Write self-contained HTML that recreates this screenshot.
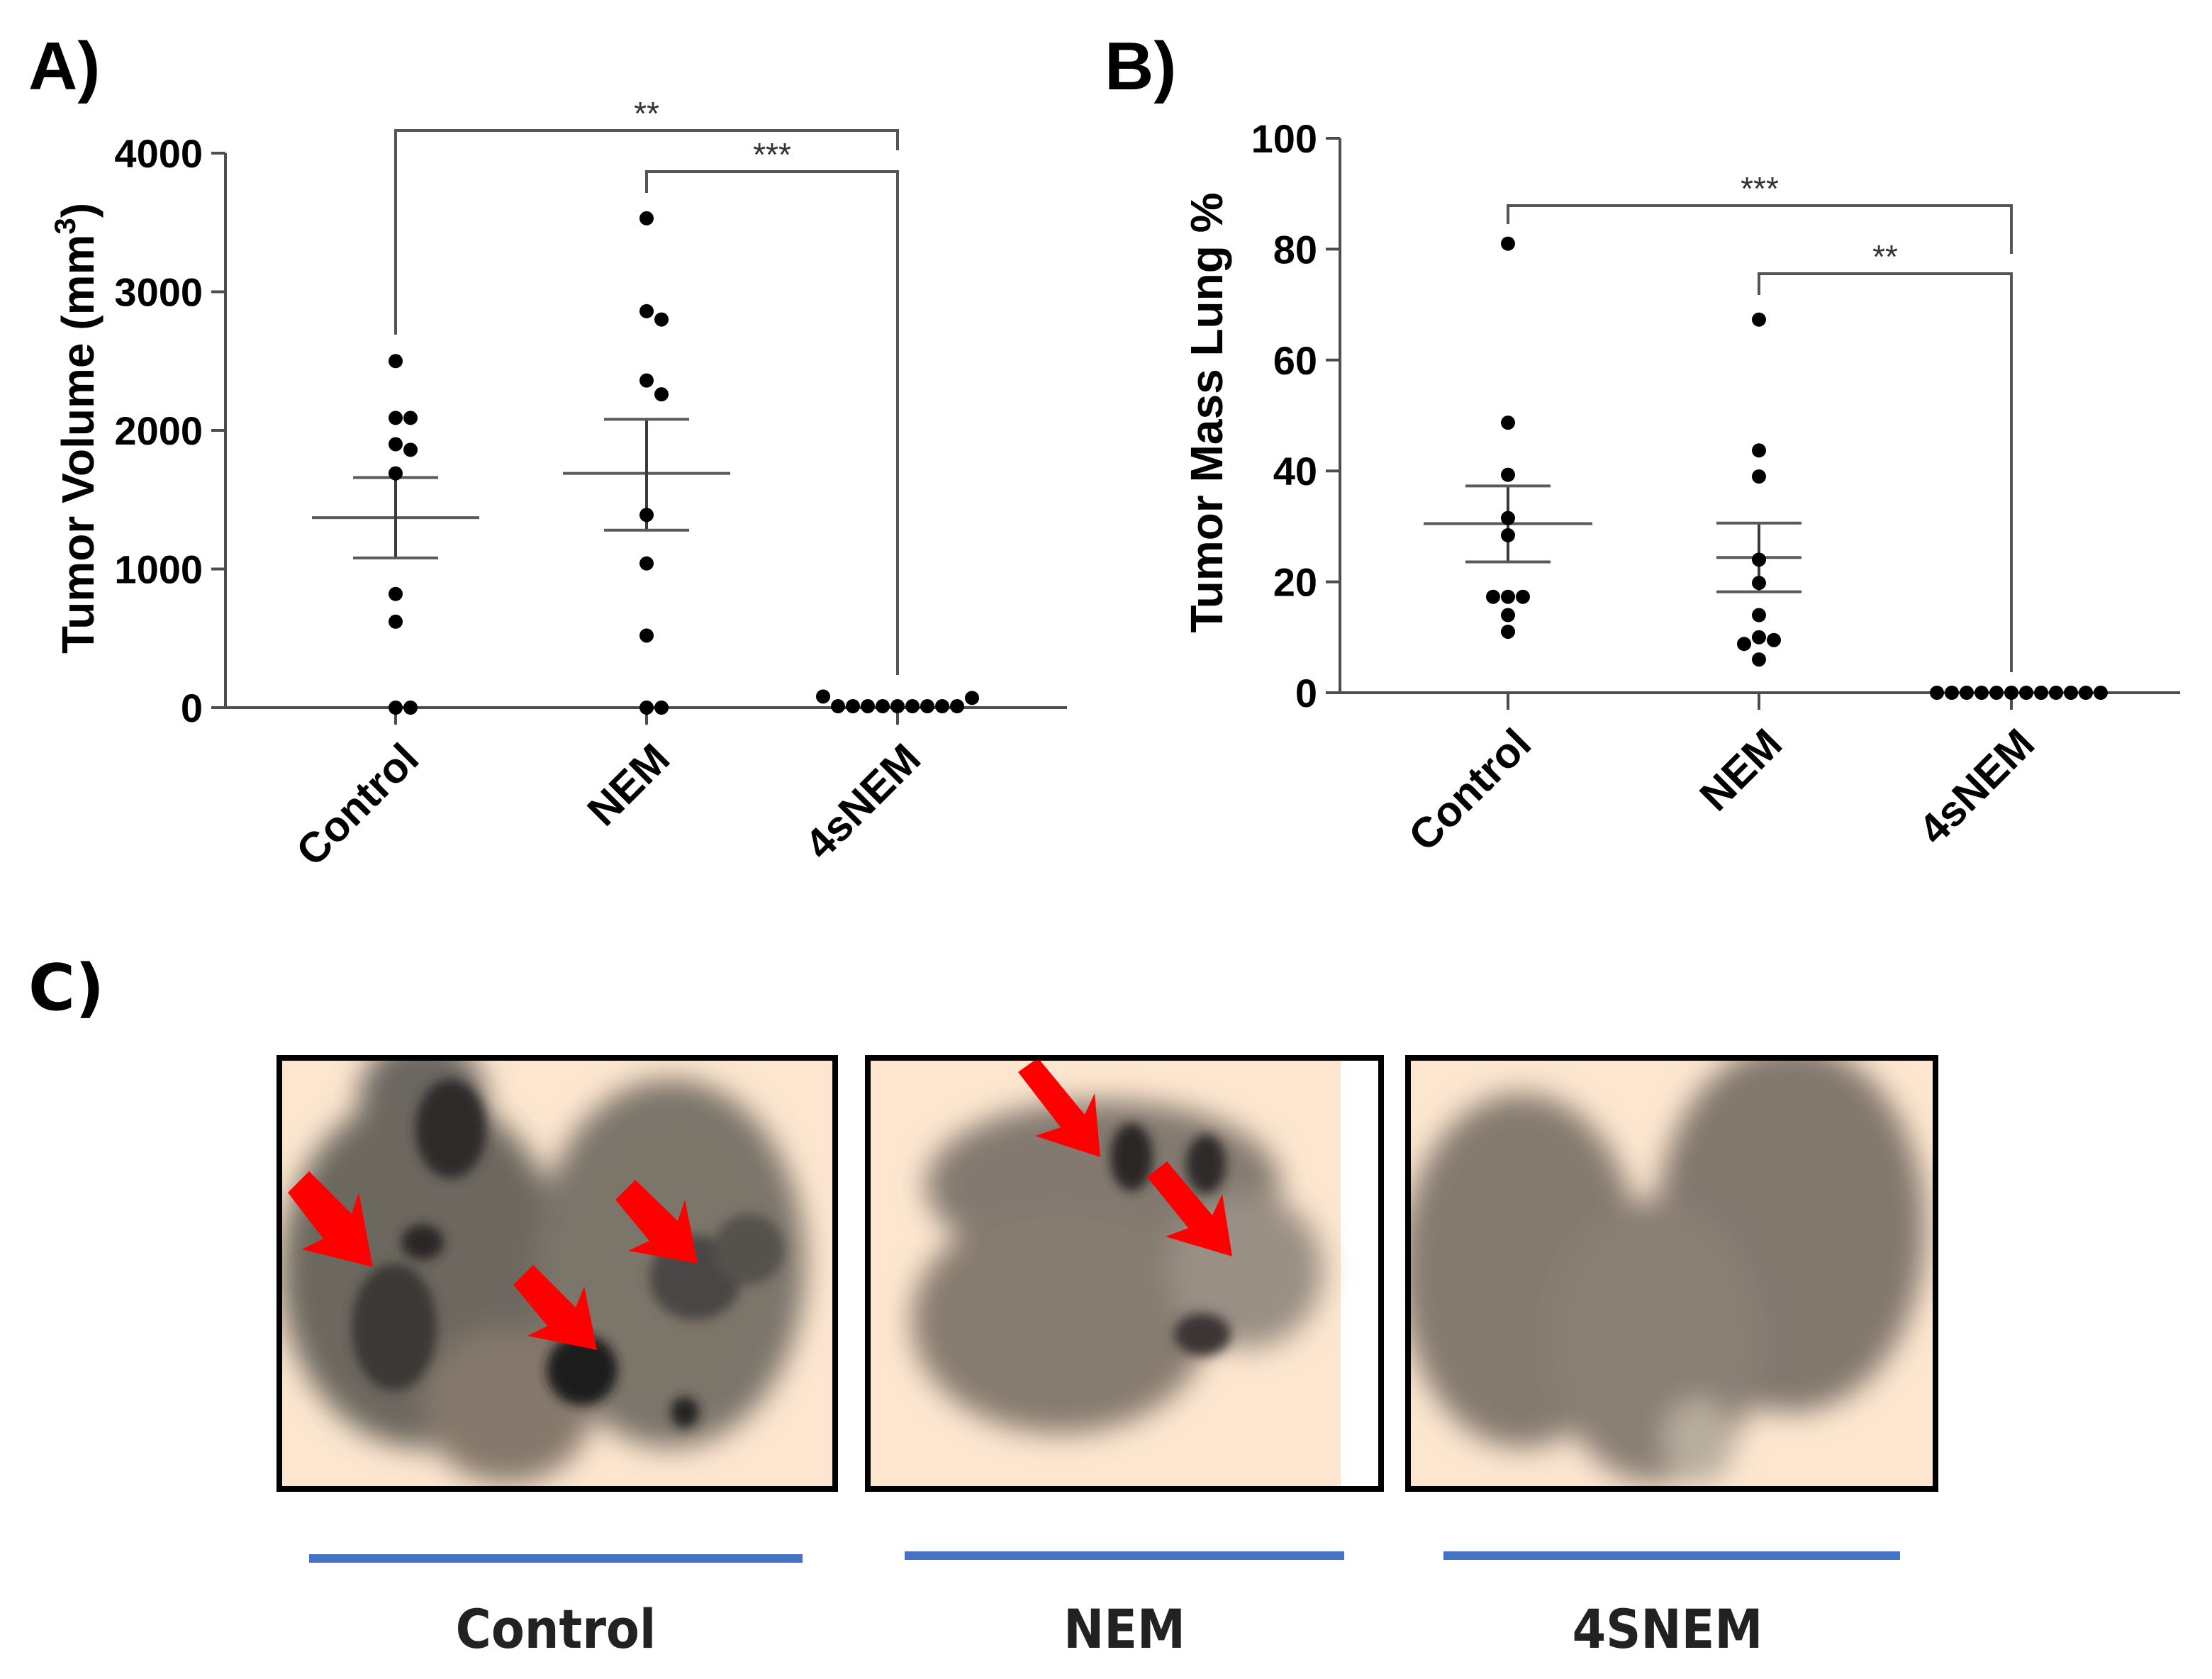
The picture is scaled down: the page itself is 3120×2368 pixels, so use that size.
<!DOCTYPE html>
<html><head><meta charset="utf-8"><style>
html,body{margin:0;padding:0;background:#fff}
svg{display:block}
</style></head><body>
<svg id="fig" width="3120" height="2368" viewBox="0 0 3120 2368" xmlns="http://www.w3.org/2000/svg" font-family="Liberation Sans, sans-serif">
<defs>
<filter id="blur8"><feGaussianBlur stdDeviation="8"/></filter>
<filter id="blur20"><feGaussianBlur stdDeviation="20"/></filter>
<clipPath id="c1"><rect x="396" y="1494" width="780" height="604"/></clipPath>
<clipPath id="c2"><rect x="1226" y="1494" width="720" height="604"/></clipPath>
<clipPath id="c3"><rect x="1988" y="1494" width="740" height="604"/></clipPath>
</defs>
<g id="chartA"></g>
<g id="chartB"></g>

<text x="40" y="126" font-size="96" font-weight="bold">A)</text>
<text x="1558" y="126" font-size="96" font-weight="bold">B)</text>
<text x="40" y="1424" font-size="90" font-weight="bold" font-family="DejaVu Sans, sans-serif">C)</text>

<g transform="translate(-4,-8)">
<!-- Photo 1: Control -->
<g>
<rect x="400" y="1502" width="780" height="604" fill="#fde6cf"/>
<g clip-path="url(#c1)" transform="translate(4,8)">
<g transform="translate(-4,-8)">
<g filter="url(#blur20)">
<ellipse cx="600" cy="1560" rx="90" ry="90" fill="#6a6660"/>
<ellipse cx="600" cy="1800" rx="200" ry="250" fill="#6c675f"/>
<ellipse cx="950" cy="1790" rx="190" ry="260" fill="#7c746a"/>
<ellipse cx="720" cy="1990" rx="120" ry="110" fill="#85786c"/>
</g>
<g filter="url(#blur8)">
<ellipse cx="640" cy="1600" rx="50" ry="70" fill="#2e2c2a"/>
<ellipse cx="600" cy="1760" rx="30" ry="25" fill="#2a2826"/>
<ellipse cx="560" cy="1880" rx="60" ry="90" fill="#3a3836"/>
<ellipse cx="985" cy="1810" rx="65" ry="60" fill="#4a4744"/>
<ellipse cx="1060" cy="1770" rx="50" ry="50" fill="#55514c"/>
<ellipse cx="825" cy="1940" rx="50" ry="50" fill="#1e1d1c"/>
<ellipse cx="970" cy="2000" rx="20" ry="22" fill="#222"/>
</g>
</g>
</g>
<polygon points="410,1690 440,1660 500,1720 510,1690 530,1795 430,1770 460,1755" fill="#f00"/>
<polygon points="872,1700 900,1672 960,1730 970,1700 988,1790 890,1772 920,1758" fill="#f00"/>
<polygon points="728,1820 756,1792 816,1852 828,1822 846,1912 748,1892 776,1878" fill="#f00"/>
<rect x="398" y="1500" width="784" height="608" fill="none" stroke="#000" stroke-width="8"/>
</g>

<!-- Photo 2: NEM -->
<g>
<rect x="1230" y="1502" width="720" height="604" fill="#fde6cf"/>
<rect x="1895" y="1502" width="55" height="604" fill="#ffffff"/>
<g clip-path="url(#c2)" transform="translate(4,8)">
<g transform="translate(-4,-8)">
<g filter="url(#blur20)">
<ellipse cx="1560" cy="1680" rx="250" ry="120" fill="#837970"/>
<ellipse cx="1500" cy="1870" rx="210" ry="160" fill="#877b70"/>
<ellipse cx="1760" cy="1800" rx="110" ry="110" fill="#9a8f84"/>
</g>
<g filter="url(#blur8)">
<ellipse cx="1600" cy="1640" rx="30" ry="48" fill="#2a2826"/>
<ellipse cx="1705" cy="1650" rx="28" ry="42" fill="#2e2c2a"/>
<ellipse cx="1700" cy="1890" rx="40" ry="30" fill="#3a3634"/>
</g>
</g>
</g>
<polygon points="1440,1520 1468,1500 1534,1580 1548,1550 1556,1640 1464,1610 1500,1598" fill="#f00"/>
<polygon points="1622,1668 1650,1646 1714,1722 1728,1692 1742,1780 1648,1752 1680,1740" fill="#f00"/>
<rect x="1228" y="1500" width="724" height="608" fill="none" stroke="#000" stroke-width="8"/>
</g>

<!-- Photo 3: 4SNEM -->
<g>
<rect x="1992" y="1502" width="740" height="604" fill="#fde6cf"/>
<g clip-path="url(#c3)" transform="translate(4,8)">
<g transform="translate(-4,-8)">
<g filter="url(#blur20)">
<ellipse cx="2150" cy="1800" rx="170" ry="250" fill="#857a70"/>
<ellipse cx="2530" cy="1740" rx="190" ry="260" fill="#83786e"/>
<ellipse cx="2340" cy="1900" rx="150" ry="200" fill="#8a7f74"/>
<ellipse cx="2400" cy="2040" rx="50" ry="60" fill="#b8ad9f"/>
</g>
</g>
</g>
<rect x="1990" y="1500" width="744" height="608" fill="none" stroke="#000" stroke-width="8"/>
</g>

<rect x="440" y="2200" width="696" height="12" fill="#4472c4"/>
<rect x="1280" y="2196" width="620" height="12" fill="#4472c4"/>
<rect x="2040" y="2196" width="644" height="12" fill="#4472c4"/>
<text x="788" y="2332" font-size="76" font-weight="bold" text-anchor="middle" font-family="DejaVu Sans Condensed, DejaVu Sans, sans-serif" fill="#222">Control</text>
<text x="1590" y="2332" font-size="76" font-weight="bold" text-anchor="middle" font-family="DejaVu Sans Condensed, DejaVu Sans, sans-serif" fill="#222">NEM</text>
<text x="2356" y="2332" font-size="76" font-weight="bold" text-anchor="middle" font-family="DejaVu Sans Condensed, DejaVu Sans, sans-serif" fill="#222">4SNEM</text>
</g>
</svg>
<script>
// ---- Data: Panel A (Tumor Volume mm3) ----
const categories = ["Control", "NEM", "4sNEM"];
const aControl = [2500, 2090, 2090, 1900, 1860, 1690, 820, 620, 0, 0];
const aNEM = [3530, 2860, 2800, 2360, 2260, 1390, 1040, 520, 0, 0];
const a4sNEM = [10, 10, 10, 10, 10, 10, 10, 10, 10, 70, 80];
const aMean = [1370, 1690];
const aSemHi = [1660, 2080];
const aSemLo = [1080, 1280];
const aTicks = [0, 1000, 2000, 3000, 4000];
const aStars = ["**", "***"];
// ---- Data: Panel B (Tumor Mass Lung %) ----
const bControl = [81, 48.7, 39.3, 31.5, 28.4, 17.3, 17.3, 17.3, 14, 11];
const bNEM = [67.3, 43.7, 39, 24, 19.8, 14, 10, 9.5, 8.8, 6];
const b4sNEM = [0, 0, 0, 0, 0, 0, 0, 0, 0, 0, 0, 0];
const bMean = [30.5, 24.4];
const bSemHi = [37.3, 30.6];
const bSemLo = [23.6, 18.2];
const bTicks = [0, 20, 40, 60, 80, 100];
const bStars = ["***", "**"];

const NS = "http://www.w3.org/2000/svg";
function mk(parent, tag, attrs, txt) {
  const e = document.createElementNS(NS, tag);
  for (const k in attrs) e.setAttribute(k, attrs[k]);
  if (txt !== undefined) e.textContent = txt;
  parent.appendChild(e);
  return e;
}

function drawChart(g, cfg) {
  const y = v => cfg.y0 - (v - cfg.min) / (cfg.max - cfg.min) * (cfg.y0 - cfg.yTop);
  const x = i => cfg.catX[i];
  const axc = "#4d4d4d";
  let e = mk(g, "line", {x1: cfg.axX, y1: y(cfg.max), x2: cfg.axX, y2: cfg.y0, stroke: axc, "stroke-width": 4});
  
  
  e = mk(g, "line", {x1: cfg.axX - 20, y1: cfg.y0, x2: cfg.xEnd, y2: cfg.y0, stroke: axc, "stroke-width": 4});
  
  
  cfg.ticks.forEach(t => {
    const l = mk(g, "line", {x1: cfg.axX - 20, y1: y(t), x2: cfg.axX, y2: y(t), stroke: axc, "stroke-width": 4});
    
    
    const tx = mk(g, "text", {x: cfg.axX - 32, y: y(t) + 20, "font-size": 56, "font-weight": "bold", "text-anchor": "end"}, String(t));
    
    
  });
  const ttl = mk(g, "text", {x: 0, y: 0, "font-size": 64, "font-weight": "bold", "text-anchor": "middle", transform: `translate(${cfg.titleX},${cfg.titleY}) rotate(-90)`});
  
  
  ttl.textContent = cfg.title;
  if (cfg.sup) {
    mk(ttl, "tspan", {"font-size": 42, dy: -26}, cfg.sup);
    mk(ttl, "tspan", {dy: 26}, ")");
  }
  categories.forEach((c, i) => {
    const l = mk(g, "line", {x1: x(i), y1: cfg.y0, x2: x(i), y2: cfg.y0 + 24, stroke: axc, "stroke-width": 4});
    
    
    const tx = mk(g, "text", {x: 0, y: 0, "font-size": 60, "font-weight": "bold", "text-anchor": "end", transform: `translate(${x(i) + 36},${cfg.y0 + 76}) rotate(-45)`}, c);
    
    
  });
  for (let i = 0; i < cfg.mean.length; i++) {
    const mh = cfg.meanHalf[i];
    let l = mk(g, "line", {x1: x(i) - mh, y1: y(cfg.mean[i]), x2: x(i) + mh, y2: y(cfg.mean[i]), stroke: "#5a5a5a", "stroke-width": 4});
    
    
    l = mk(g, "line", {x1: x(i), y1: y(cfg.hi[i]), x2: x(i), y2: y(cfg.lo[i]), stroke: "#3a3a3a", "stroke-width": 4});
    
    
    [cfg.hi[i], cfg.lo[i]].forEach(v => {
      const c = mk(g, "line", {x1: x(i) - 60, y1: y(v), x2: x(i) + 60, y2: y(v), stroke: "#5a5a5a", "stroke-width": 4});
      
      
    });
  }
  cfg.series.forEach((vals, i) => {
    const placed = [];
    const r = 10, d = 21;
    vals.forEach(v => {
      const py = y(v);
      let off = 0;
      for (let k = 0; k < 30; k++) {
        const cand = k === 0 ? 0 : (k % 2 ? 1 : -1) * Math.ceil(k / 2) * d;
        const ok = placed.every(p => Math.hypot(p[0] - (x(i) + cand), p[1] - py) >= 2 * r);
        if (ok) { off = cand; break; }
      }
      placed.push([x(i) + off, py]);
      const c = mk(g, "circle", {cx: x(i) + off, cy: py, r: r, fill: "#000"});
      
      
    });
  });
  cfg.brackets.forEach((b, k) => {
    const p = mk(g, "path", {d: `M${x(b.a)},${b.dl} V${b.top} H${x(b.b)} V${b.dr}`, fill: "none", stroke: "#555", "stroke-width": 4});
    
    
    const t = mk(g, "text", {x: (x(b.a) + x(b.b)) / 2, y: b.top - 8, "font-size": 46, "text-anchor": "middle", fill: "#333"}, cfg.stars[k]);
    
    
  });
}

drawChart(document.getElementById("chartA"), {
  min: 0, max: 4000, y0: 998, yTop: 216, axX: 318, xEnd: 1505,
  catX: [558, 912, 1266], ticks: aTicks, title: "Tumor Volume (mm", sup: "3",
  titleX: 132, titleY: 604,
  mean: aMean, hi: aSemHi, lo: aSemLo, meanHalf: [118, 118],
  series: [aControl, aNEM, a4sNEM], stars: aStars,
  brackets: [{a: 0, b: 2, top: 184, dl: 472, dr: 212}, {a: 1, b: 2, top: 242, dl: 272, dr: 952}]
});
drawChart(document.getElementById("chartB"), {
  min: 0, max: 100, y0: 977, yTop: 195, axX: 1890, xEnd: 3075,
  catX: [2127, 2481, 2837], ticks: bTicks, title: "Tumor Mass Lung %",
  titleX: 1724, titleY: 582,
  mean: bMean, hi: bSemHi, lo: bSemLo, meanHalf: [119, 60],
  series: [bControl, bNEM, b4sNEM], stars: bStars,
  brackets: [{a: 0, b: 2, top: 290, dl: 316, dr: 358}, {a: 1, b: 2, top: 386, dl: 416, dr: 948}]
});
</script>
</body></html>
